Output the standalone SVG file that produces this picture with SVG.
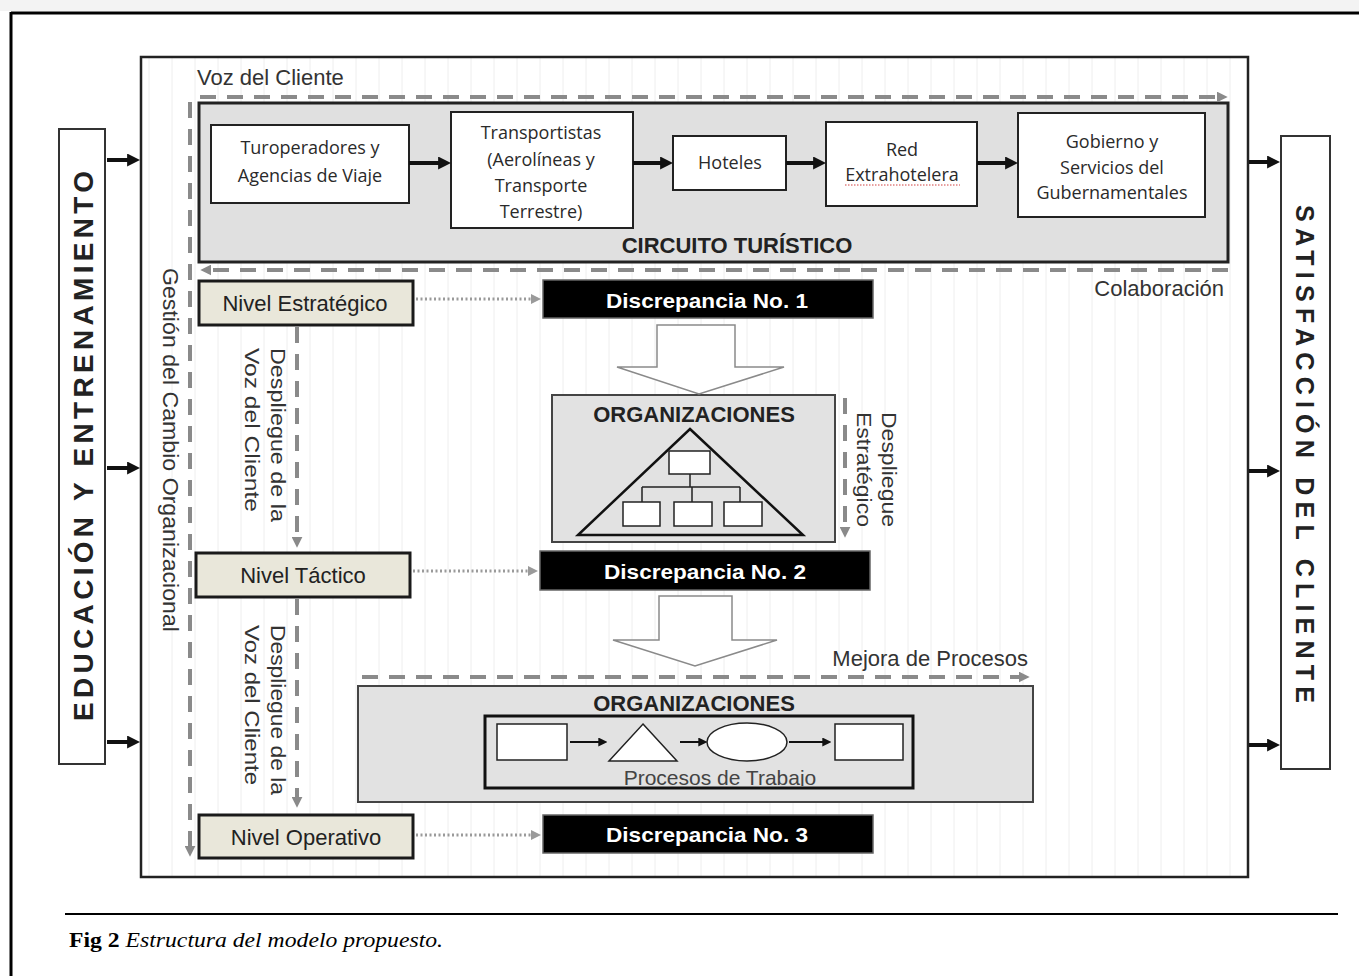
<svg xmlns="http://www.w3.org/2000/svg" width="1359" height="976" viewBox="0 0 1359 976">
<defs>
<pattern id="vl" x="0" y="0" width="23" height="10" patternUnits="userSpaceOnUse">
<line x1="11" y1="0" x2="11" y2="10" stroke="#eeeeee" stroke-width="1"/>
</pattern>
<marker id="ab" viewBox="0 0 10 10" refX="3" refY="5" markerWidth="13" markerHeight="13" markerUnits="userSpaceOnUse" orient="auto"><path d="M0,0 L10,5 L0,10 z" fill="#111"/></marker>
<marker id="ag" viewBox="0 0 10 10" refX="3" refY="5" markerWidth="11" markerHeight="11" markerUnits="userSpaceOnUse" orient="auto"><path d="M0,0 L10,5 L0,10 z" fill="#8a8a8a"/></marker>
<marker id="ad" viewBox="0 0 10 10" refX="3" refY="5" markerWidth="10" markerHeight="10" markerUnits="userSpaceOnUse" orient="auto"><path d="M0,0 L10,5 L0,10 z" fill="#9a9a9a"/></marker>
<marker id="as" viewBox="0 0 10 10" refX="3" refY="5" markerWidth="9" markerHeight="9" markerUnits="userSpaceOnUse" orient="auto"><path d="M0,0 L10,5 L0,10 z" fill="#111"/></marker>
<clipPath id="clipProc"><rect x="487" y="718" width="424" height="68"/></clipPath>
</defs>
<style>
text{font-family:"Liberation Sans",Arial,sans-serif;}
text.cap{font-family:"Liberation Serif","Times New Roman",serif;font-size:22px;fill:#000}
.cal{font-family:"Open Sans","Liberation Sans",sans-serif;font-size:18px;fill:#2a2a2a;text-anchor:middle}
.box{fill:#fff;stroke:#222;stroke-width:2}
.lvl{fill:#e9e7da;stroke:#1a1a1a;stroke-width:3}
.lvlt{font-size:22px;fill:#222;text-anchor:middle}
.disc{fill:#000;stroke:#666;stroke-width:1.5}
.disct{font-size:21px;font-weight:bold;fill:#fff;text-anchor:middle}
.dash{stroke:#8a8a8a;stroke-width:4;stroke-dasharray:16 11;fill:none}
.dot{stroke:#9a9a9a;stroke-width:3;stroke-dasharray:2 2.5;fill:none}
.thick{stroke:#111;stroke-width:4;fill:none}
.thin{stroke:#111;stroke-width:2;fill:none}
.grey{fill:#e2e2e2;stroke:#444;stroke-width:2}
.lbl{font-size:22px;fill:#333}
.hollow{fill:#fff;stroke:#8a8a8a;stroke-width:1.5}
.side{fill:#fff;stroke:#333;stroke-width:2}
.sidet{font-weight:bold;fill:#222;text-anchor:middle}
.org{font-size:22px;font-weight:bold;fill:#222;text-anchor:middle}
.rot{font-size:21px;fill:#333}
</style>

<rect x="0" y="0" width="1359" height="976" fill="#fff"/>
<rect x="0" y="0" width="1359" height="11" fill="#f3f3f3"/>
<g id="frame">
<line x1="11" y1="13" x2="1359" y2="13" stroke="#000" stroke-width="3"/>
<line x1="11" y1="12" x2="11" y2="976" stroke="#000" stroke-width="3"/>
</g>

<g id="main">
<rect x="141" y="57" width="1107" height="820" fill="#fff"/>
<rect x="141" y="57" width="1107" height="820" fill="url(#vl)"/>
<rect x="141" y="57" width="1107" height="820" fill="none" stroke="#222" stroke-width="2.5"/>
</g>

<g id="educacion">
<rect class="side" x="59" y="129" width="46" height="635"/>
<text class="sidet" font-size="28" transform="translate(93,446) rotate(-90)" textLength="550" lengthAdjust="spacing">EDUCACIÓN Y ENTRENAMIENTO</text>
</g>
<g id="satisfaccion">
<rect class="side" x="1281" y="136" width="49" height="633"/>
<text class="sidet" font-size="25" transform="translate(1296,454) rotate(90)" textLength="498" lengthAdjust="spacing">SATISFACCIÓN DEL CLIENTE</text>
</g>

<g id="circuito">
<rect x="199" y="103" width="1029" height="159" fill="#e0e0e0" stroke="#222" stroke-width="3"/>
<text x="737" y="253" font-size="22" font-weight="bold" fill="#222" text-anchor="middle">CIRCUITO TURÍSTICO</text>
</g>
<g id="turoperadores">
<rect class="box" x="211" y="125" width="198" height="78"/>
<text class="cal" x="310" y="154">Turoperadores y</text>
<text class="cal" x="310" y="182">Agencias de Viaje</text>
</g>
<g id="transportistas">
<rect class="box" x="451" y="112" width="182" height="116"/>
<text class="cal" x="541" y="139">Transportistas</text>
<text class="cal" x="541" y="166">(Aerolíneas y</text>
<text class="cal" x="541" y="192">Transporte</text>
<text class="cal" x="541" y="218">Terrestre)</text>
</g>
<g id="hoteles">
<rect class="box" x="673" y="136" width="113" height="54"/>
<text class="cal" x="730" y="169">Hoteles</text>
</g>
<g id="extrahotelera">
<rect class="box" x="826" y="122" width="151" height="84"/>
<text class="cal" x="902" y="156">Red</text>
<text class="cal" x="902" y="181">Extrahotelera</text>
<line x1="845" y1="185" x2="960" y2="185" stroke="#d04040" stroke-width="1" stroke-dasharray="1.5 1.5"/>
</g>
<g id="gobierno">
<rect class="box" x="1018" y="113" width="187" height="104"/>
<text class="cal" x="1112" y="148">Gobierno y</text>
<text class="cal" x="1112" y="174">Servicios del</text>
<text class="cal" x="1112" y="199">Gubernamentales</text>
</g>

<g id="labels">
<text class="lbl" x="197" y="85">Voz del Cliente</text>
<text class="lbl" x="1224" y="296" text-anchor="end">Colaboración</text>
<text class="lbl" x="1028" y="666" text-anchor="end">Mejora de Procesos</text>
<text class="lbl" font-size="20" transform="translate(163,268) rotate(90)" textLength="364" lengthAdjust="spacingAndGlyphs">Gestión del Cambio Organizacional</text>
<text class="rot" transform="translate(271,348) rotate(90)" textLength="174" lengthAdjust="spacingAndGlyphs">Despliegue de la</text>
<text class="rot" transform="translate(245,348) rotate(90)" textLength="164" lengthAdjust="spacingAndGlyphs">Voz del Cliente</text>
<text class="rot" transform="translate(271,625) rotate(90)" textLength="170" lengthAdjust="spacingAndGlyphs">Despliegue de la</text>
<text class="rot" transform="translate(245,625) rotate(90)" textLength="160" lengthAdjust="spacingAndGlyphs">Voz del Cliente</text>
<text class="rot" transform="translate(882,412) rotate(90)" textLength="115" lengthAdjust="spacingAndGlyphs">Despliegue</text>
<text class="rot" transform="translate(857,412) rotate(90)" textLength="115" lengthAdjust="spacingAndGlyphs">Estratégico</text>
</g>

<g id="nivel-estrategico">
<rect class="lvl" x="199" y="281" width="214" height="44"/>
<text class="lvlt" x="305" y="311">Nivel Estratégico</text>
</g>
<g id="nivel-tactico">
<rect class="lvl" x="196" y="553" width="214" height="44"/>
<text class="lvlt" x="303" y="583">Nivel Táctico</text>
</g>
<g id="nivel-operativo">
<rect class="lvl" x="199" y="815" width="214" height="43"/>
<text class="lvlt" x="306" y="845">Nivel Operativo</text>
</g>

<g id="discrepancia1">
<rect class="disc" x="543" y="280" width="330" height="38"/>
<text class="disct" x="707" y="308" textLength="202" lengthAdjust="spacingAndGlyphs">Discrepancia No. 1</text>
</g>
<g id="discrepancia2">
<rect class="disc" x="540" y="551" width="330" height="39"/>
<text class="disct" x="705" y="579" textLength="202" lengthAdjust="spacingAndGlyphs">Discrepancia No. 2</text>
</g>
<g id="discrepancia3">
<rect class="disc" x="543" y="815" width="330" height="38"/>
<text class="disct" x="707" y="842" textLength="202" lengthAdjust="spacingAndGlyphs">Discrepancia No. 3</text>
</g>

<g id="organizaciones1">
<rect class="grey" x="552" y="395" width="283" height="147"/>
<text class="org" x="694" y="422">ORGANIZACIONES</text>
<path d="M690,429 L803,535 L578,535 Z" fill="none" stroke="#111" stroke-width="2.5"/>
<rect x="669" y="451" width="41" height="23" fill="#fff" stroke="#222" stroke-width="1.5"/>
<path d="M690,474 V487 M642,487 H740 M642,487 V502 M692,487 V502 M740,487 V502" stroke="#222" stroke-width="1.5" fill="none"/>
<rect x="623" y="502" width="37" height="24" fill="#fff" stroke="#222" stroke-width="1.5"/>
<rect x="674" y="502" width="38" height="24" fill="#fff" stroke="#222" stroke-width="1.5"/>
<rect x="724" y="502" width="38" height="24" fill="#fff" stroke="#222" stroke-width="1.5"/>
</g>

<g id="organizaciones2">
<rect class="grey" x="358" y="686" width="675" height="116"/>
<text class="org" x="694" y="711">ORGANIZACIONES</text>
<rect x="485" y="716" width="428" height="72" fill="#e2e2e2" stroke="#111" stroke-width="3"/>
<rect x="497" y="724" width="70" height="36" fill="#fff" stroke="#222" stroke-width="1.5"/>
<path d="M643,724 L677,761 L609,761 Z" fill="#fff" stroke="#222" stroke-width="1.5"/>
<ellipse cx="747" cy="742" rx="40" ry="19" fill="#fff" stroke="#222" stroke-width="1.5"/>
<rect x="835" y="724" width="68" height="36" fill="#fff" stroke="#222" stroke-width="1.5"/>
<text x="720" y="785" font-size="21" fill="#444" text-anchor="middle" clip-path="url(#clipProc)">Procesos de Trabajo</text>
</g>

<g id="connectors">
<line class="thick" x1="107" y1="160" x2="131" y2="160" marker-end="url(#ab)"/>
<line class="thick" x1="107" y1="468" x2="131" y2="468" marker-end="url(#ab)"/>
<line class="thick" x1="107" y1="742" x2="131" y2="742" marker-end="url(#ab)"/>
<line class="thick" x1="1249" y1="162" x2="1271" y2="162" marker-end="url(#ab)"/>
<line class="thick" x1="1249" y1="471" x2="1271" y2="471" marker-end="url(#ab)"/>
<line class="thick" x1="1249" y1="745" x2="1271" y2="745" marker-end="url(#ab)"/>
<line class="thick" x1="409" y1="163" x2="442" y2="163" marker-end="url(#ab)"/>
<line class="thick" x1="633" y1="163" x2="664" y2="163" marker-end="url(#ab)"/>
<line class="thick" x1="786" y1="163" x2="817" y2="163" marker-end="url(#ab)"/>
<line class="thick" x1="977" y1="163" x2="1009" y2="163" marker-end="url(#ab)"/>
<line class="dash" x1="200" y1="97" x2="1220" y2="97" marker-end="url(#ag)"/>
<line class="dash" x1="1228" y1="270" x2="208" y2="270" marker-end="url(#ag)"/>
<line class="dash" x1="190" y1="102" x2="190" y2="849" marker-end="url(#ag)"/>
<line class="dash" x1="297" y1="327" x2="297" y2="540" marker-end="url(#ag)"/>
<line class="dash" x1="297" y1="599" x2="297" y2="800" marker-end="url(#ag)"/>
<line class="dash" x1="845" y1="398" x2="845" y2="530" marker-end="url(#ag)"/>
<line class="dash" x1="362" y1="677" x2="1022" y2="677" marker-end="url(#ag)"/>
<line class="dot" x1="416" y1="299" x2="534" y2="299" marker-end="url(#ad)"/>
<line class="dot" x1="413" y1="571" x2="531" y2="571" marker-end="url(#ad)"/>
<line class="dot" x1="416" y1="835" x2="534" y2="835" marker-end="url(#ad)"/>
<path class="hollow" d="M657,325 L735,325 L735,367 L784,367 L699,394 L617,367 L657,367 Z"/>
<path class="hollow" d="M659,596 L732,596 L732,640 L777,640 L695,666 L613,640 L659,640 Z"/>
<line class="thin" x1="570" y1="742" x2="601" y2="742" marker-end="url(#as)"/>
<line class="thin" x1="680" y1="742" x2="701" y2="742" marker-end="url(#as)"/>
<line class="thin" x1="789" y1="742" x2="825" y2="742" marker-end="url(#as)"/>
</g>

<g id="caption">
<line x1="65" y1="914" x2="1338" y2="914" stroke="#000" stroke-width="2"/>
<text class="cap" x="69" y="947" textLength="374" lengthAdjust="spacingAndGlyphs"><tspan font-weight="bold">Fig 2</tspan> <tspan font-style="italic">Estructura del modelo propuesto.</tspan></text>
</g>
</svg>
